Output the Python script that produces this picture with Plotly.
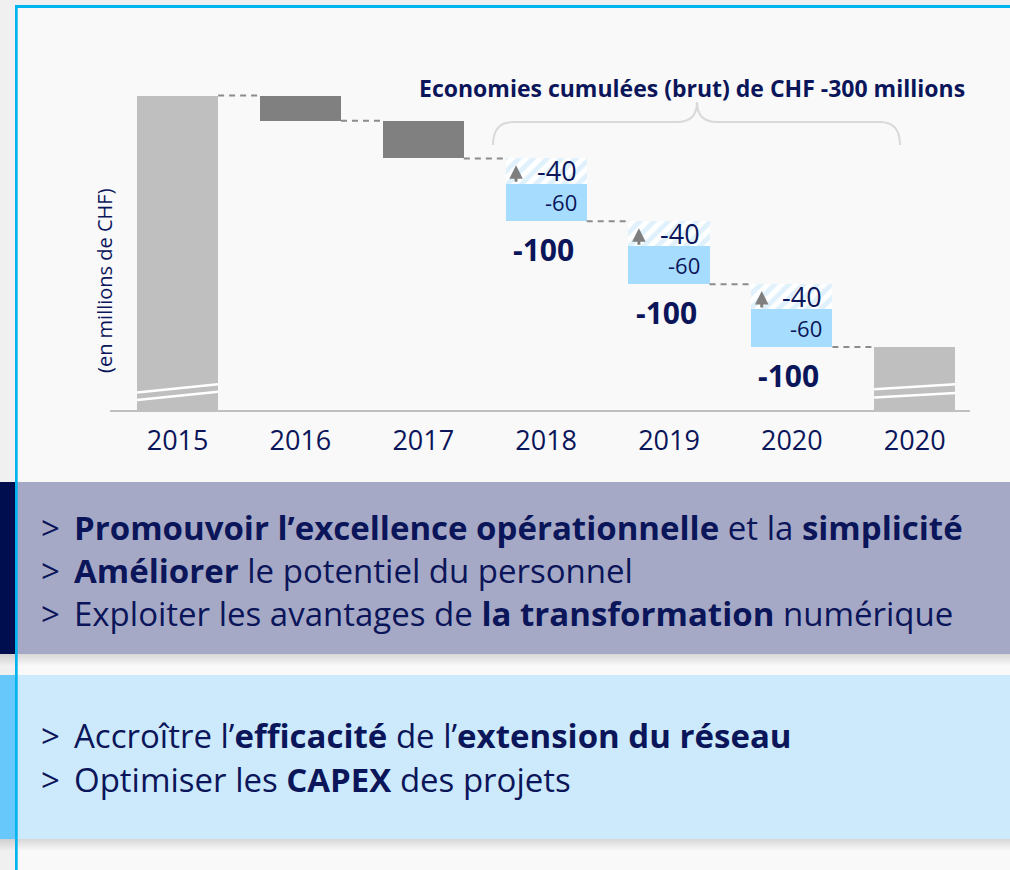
import plotly.graph_objects as go

W, H = 1010, 870

# ---------------- data ----------------
categories = ["2015", "2016", "2017", "2018", "2019", "2020", "2020"]
start_value = 500                 # 2015 starting bar (truncated)
early_deltas = [-40, -60]         # 2016, 2017
hatched_deltas = [-40, -40, -40]  # 2018, 2019, 2020 (hatched part)
solid_deltas = [-60, -60, -60]    # 2018, 2019, 2020 (solid part)
hatched_labels = ["-40", "-40", "-40"]
solid_labels = ["-60", "-60", "-60"]
year_total_labels = ["-100", "-100", "-100"]
title_text = "Economies cumulées (brut) de CHF -300 millions"
y_title = "(en millions de CHF)"
panel1_lines = [
    "<b>Promouvoir l’excellence opérationnelle</b> et la <b>simplicité</b>",
    "<b>Améliorer</b> le potentiel du personnel",
    "Exploiter les avantages de <b>la transformation</b> numérique",
]
panel2_lines = [
    "Accroître l’<b>efficacité</b> de l’<b>extension du réseau</b>",
    "Optimiser les <b>CAPEX</b> des projets",
]

# ---------------- styles ----------------
NAVY = "#0b1559"
FONT = "Open Sans"
LIGHT_GRAY = "#bfbfbf"
DARK_GRAY = "#808080"
SOLID_BLUE = "#a6ddff"
HATCH_BLUE = "#c2e4fa"
FRAME_BLUE = "#00b4ef"
BAR_W = 0.66
HB = BAR_W / 2
PANEL_FONT = 33


def px(x):
    return x / W


def py(y):
    return 1 - y / H


def prect(x0, y0, x1, y1, color):
    """rectangle in pixel units (top-left origin), drawn below the plot"""
    return dict(type="rect", xref="paper", yref="paper", x0=px(x0), x1=px(x1),
                y0=py(y1), y1=py(y0), fillcolor=color, line=dict(width=0), layer="below")


# ---------------- derived levels ----------------
levels = [start_value]
for d in early_deltas:
    levels.append(levels[-1] + d)
early_base = [levels[i + 1] for i in range(len(early_deltas))]
early_h = [-d for d in early_deltas]

hatched_base, hatched_h, solid_base, solid_h, tops, bottoms = [], [], [], [], [], []
cur = levels[-1]
for hd, sd in zip(hatched_deltas, solid_deltas):
    tops.append(cur)
    hatched_base.append(cur + hd)
    hatched_h.append(-hd)
    solid_base.append(cur + hd + sd)
    solid_h.append(-sd)
    cur = cur + hd + sd
    bottoms.append(cur)
final_value = cur

n_early = len(early_deltas)
x_early = [1 + i for i in range(n_early)]
x_years = [1 + n_early + i for i in range(len(hatched_deltas))]
x_final = x_years[-1] + 1

fig = go.Figure()
fig.add_trace(go.Bar(x=[0, x_final], y=[start_value, final_value], base=[0, 0],
                     width=BAR_W, marker=dict(color=LIGHT_GRAY, line=dict(width=0)),
                     hoverinfo="skip"))
fig.add_trace(go.Bar(x=x_early, y=early_h, base=early_base, width=BAR_W,
                     marker=dict(color=DARK_GRAY, line=dict(width=0)), hoverinfo="skip"))
fig.add_trace(go.Bar(x=x_years, y=solid_h, base=solid_base, width=BAR_W,
                     marker=dict(color=SOLID_BLUE, line=dict(width=0)), hoverinfo="skip"))
fig.add_trace(go.Bar(x=x_years, y=hatched_h, base=hatched_base, width=BAR_W,
                     marker=dict(color="white", line=dict(width=0),
                                 pattern=dict(shape="/", fgcolor=HATCH_BLUE, bgcolor="white",
                                              size=10, solidity=0.5)),
                     hoverinfo="skip"))

shapes = []
# background frame fill
shapes.append(prect(16, 6, W, H, "#f9f9f9"))


def shadow(ybottom):
    out = []
    for k in range(8):
        a = 0.13 * (1 - k / 8)
        out.append(prect(0, ybottom + k * 1.4, W, ybottom + (k + 1) * 1.4,
                         f"rgba(0,0,0,{a:.3f})"))
    return out


# panels
shapes += shadow(654)
shapes.append(prect(16, 482, W, 654, "#a6a9c6"))
shapes.append(prect(0, 482, 16, 654, "#000d4f"))
shapes += shadow(839)
shapes.append(prect(16, 675, W, 839, "#cceafc"))
shapes.append(prect(0, 675, 16, 839, "#66c8fb"))
# frame border (filled strips)
shapes.append(prect(15, 5, W, 8, FRAME_BLUE))
shapes.append(prect(15, 5, 17.7, H, FRAME_BLUE))

# dashed connectors
conn = [(0, start_value)] + [(x_early[i], early_base[i]) for i in range(n_early)] + \
       [(x_years[i], bottoms[i]) for i in range(len(x_years))]
for xi, lv in conn:
    shapes.append(dict(type="line", xref="x", yref="y", x0=xi + HB, x1=xi + 1 - HB,
                       y0=lv, y1=lv, line=dict(color="#8c8c8c", width=2, dash="6px,5px")))

# break marks on truncated bars (style offsets)
break_marks = {0: [(28, 41), (16, 29)], x_final: [(33, 41), (20, 27)]}
for xi, marks in break_marks.items():
    for yl, yr in marks:
        shapes.append(dict(type="line", xref="x", yref="y", x0=xi - HB, x1=xi + HB,
                           y0=yl, y1=yr, line=dict(color="white", width=2.5)))

# brace
bx0, bx1, btip, by, byend, bytip = 493, 900, 697, 122, 145, 102
r = 20
path = (f"M {px(bx0)},{py(byend)} Q {px(bx0)},{py(by)} {px(bx0 + r)},{py(by)} "
        f"L {px(btip - r)},{py(by)} Q {px(btip)},{py(by)} {px(btip)},{py(bytip)} "
        f"Q {px(btip)},{py(by)} {px(btip + r)},{py(by)} "
        f"L {px(bx1 - r)},{py(by)} Q {px(bx1)},{py(by)} {px(bx1)},{py(byend)}")
shapes.append(dict(type="path", xref="paper", yref="paper", path=path,
                   line=dict(color="#d9d9d9", width=2)))

ann = []
ann.append(dict(xref="paper", yref="paper", x=px(692), y=py(88), text=f"<b>{title_text}</b>",
                xanchor="center", yanchor="middle",
                showarrow=False, font=dict(family=FONT, size=23, color=NAVY)))
ann.append(dict(xref="paper", yref="paper", x=px(104), y=py(281), text=y_title, textangle=-90,
                xanchor="center", yanchor="middle",
                showarrow=False, font=dict(family=FONT, size=20, color=NAVY)))

for i, xi in enumerate(x_years):
    ann.append(dict(x=xi - 0.245, y=tops[i] - 11, xref="x", yref="y", text="", showarrow=True,
                    ax=0, ay=18, arrowhead=2, arrowsize=0.9, arrowwidth=3, arrowcolor="#7f7f7f",
                    standoff=0))
    ann.append(dict(x=xi + HB, y=hatched_base[i] + hatched_h[i] / 2, xref="x", yref="y",
                    text=hatched_labels[i], xanchor="right", yanchor="middle", xshift=-8,
                    showarrow=False, font=dict(family=FONT, size=27, color=NAVY)))
    ann.append(dict(x=xi + HB, y=solid_base[i] + solid_h[i] / 2, xref="x", yref="y",
                    text=solid_labels[i], xanchor="right", yanchor="middle", xshift=-8,
                    showarrow=False, font=dict(family=FONT, size=22, color=NAVY)))
    ann.append(dict(x=xi, y=bottoms[i], xref="x", yref="y", text=f"<b>{year_total_labels[i]}</b>",
                    xanchor="center", yanchor="top", yshift=-6, xshift=-3, showarrow=False,
                    font=dict(family=FONT, size=30, color=NAVY)))

# panel texts
for lines, centers in ((panel1_lines, [527, 570, 613]), (panel2_lines, [735, 779])):
    for t, c in zip(lines, centers):
        ann.append(dict(xref="paper", yref="paper", x=px(39), y=py(c), text=">",
                        xanchor="left", yanchor="middle", showarrow=False,
                        font=dict(family=FONT, size=PANEL_FONT, color=NAVY)))
        ann.append(dict(xref="paper", yref="paper", x=px(72), y=py(c), text=t,
                        xanchor="left", yanchor="middle", showarrow=False,
                        font=dict(family=FONT, size=PANEL_FONT, color=NAVY)))

fig.update_layout(
    width=W, height=H, margin=dict(l=0, r=0, t=0, b=0),
    paper_bgcolor="#f0f0f0", plot_bgcolor="rgba(0,0,0,0)",
    barmode="overlay", showlegend=False, bargap=0,
    shapes=shapes, annotations=ann,
    xaxis=dict(domain=[px(110), px(970)], range=[-0.55, 6.45], tickmode="array",
               tickvals=list(range(len(categories))), ticktext=categories,
               showline=True, linecolor="#c0c0c0", linewidth=2, showgrid=False, zeroline=False,
               ticks="outside", ticklen=6, tickcolor="rgba(0,0,0,0)",
               tickfont=dict(family=FONT, size=27, color=NAVY), fixedrange=True),
    yaxis=dict(domain=[py(410), py(30)], range=[0, 380 / 0.629], showline=False,
               showgrid=False, zeroline=False, showticklabels=False, fixedrange=True),
)

fig.write_html("out.html", config={"displayModeBar": False},
               post_script="document.body.style.margin='0';document.body.style.overflow='hidden';")
